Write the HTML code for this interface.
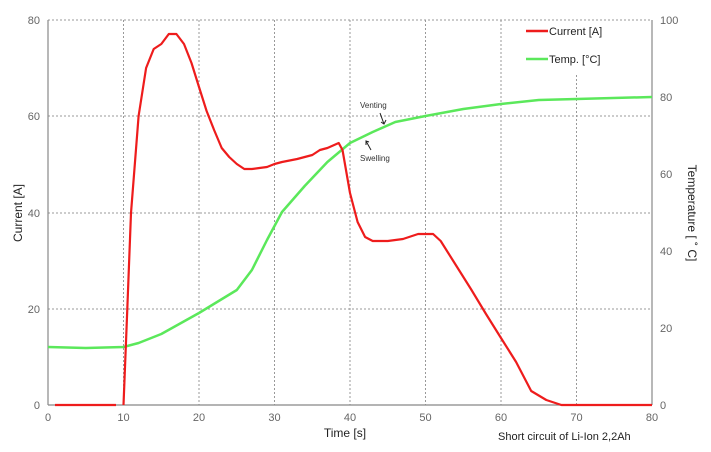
<!DOCTYPE html>
<html><head><style>body{margin:0;background:#fff}svg{font-family:"Liberation Sans",sans-serif}</style></head><body>
<svg width="711" height="447" viewBox="0 0 711 447">
<g stroke="#999" stroke-dasharray="2,2" stroke-width="1">
<line x1="48" y1="20" x2="652" y2="20"/><line x1="48" y1="116" x2="652" y2="116"/><line x1="48" y1="213" x2="652" y2="213"/><line x1="48" y1="309" x2="652" y2="309"/>
<line x1="123.5" y1="20" x2="123.5" y2="405"/><line x1="199" y1="20" x2="199" y2="405"/><line x1="274.5" y1="20" x2="274.5" y2="405"/><line x1="350" y1="20" x2="350" y2="405"/><line x1="425.5" y1="20" x2="425.5" y2="405"/><line x1="501" y1="20" x2="501" y2="405"/><line x1="576.5" y1="75" x2="576.5" y2="405"/>
</g>
<g stroke="#888" stroke-width="1.2"><line x1="48" y1="20" x2="48" y2="405"/><line x1="48" y1="405" x2="652" y2="405"/><line x1="652" y1="20" x2="652" y2="405"/></g>
<g fill="#666" font-size="11" text-anchor="end"><text x="40" y="24">80</text><text x="40" y="120">60</text><text x="40" y="217">40</text><text x="40" y="313">20</text><text x="40" y="409">0</text></g>
<g fill="#666" font-size="11" text-anchor="start"><text x="660" y="24">100</text><text x="660" y="101">80</text><text x="660" y="178">60</text><text x="660" y="255">40</text><text x="660" y="332">20</text><text x="660" y="409">0</text></g>
<g fill="#666" font-size="11" text-anchor="middle"><text x="48" y="421">0</text><text x="123.5" y="421">10</text><text x="199" y="421">20</text><text x="274.5" y="421">30</text><text x="350" y="421">40</text><text x="425.5" y="421">50</text><text x="501" y="421">60</text><text x="576.5" y="421">70</text><text x="652" y="421">80</text></g>
<text x="345" y="437" font-size="12" text-anchor="middle" fill="#222">Time [s]</text>
<text x="498" y="440" font-size="11" fill="#222">Short circuit of Li-Ion 2,2Ah</text>
<text transform="translate(22,213) rotate(-90)" font-size="12" text-anchor="middle" fill="#222">Current [A]</text>
<text transform="translate(688,213) rotate(90)" font-size="12" text-anchor="middle" fill="#222">Temperature [ ˚ C]</text>
<polyline fill="none" stroke="#5be85b" stroke-width="2.5" stroke-linejoin="round" points="48,347 85.8,348 123.5,347 138.6,343 161.3,334 199,313 236.8,290 251.9,270 267,240 282,212 304.7,186 327.4,162 350,143 372.7,132 395.3,122 425.5,116 463.3,109 501,104 538.8,100 576.5,99 652,97"/>
<polyline fill="none" stroke="#ee1c1c" stroke-width="2.2" points="55,405 116,405"/>
<polyline fill="none" stroke="#ee1c1c" stroke-width="2.2" stroke-linejoin="round" points="123.5,405 127.3,309 131,213 138.6,116 146.1,68 153.7,49 161.3,44 168.8,34 176.4,34 184,44 191.5,63 199,87 206.6,111 214.1,130 221.7,148 229.2,157 236.8,164 244.3,169 251.9,169 259.4,168 267,167 274.5,164 282,162 297.2,159 312.3,155 319.9,150 327.4,148 338.7,143 342.5,150 350,193 357.6,222 365.1,237 372.7,241 387.8,241 403,239 418.1,234 433.1,234 440.7,241 455.8,265 470.9,289 486,314 501,338 516.1,362 531.2,391 546.3,400 561.4,405 652,405"/>
<line x1="526" y1="31" x2="548" y2="31" stroke="#ee1c1c" stroke-width="2.5"/><text x="549" y="35" font-size="11" fill="#222">Current [A]</text>
<line x1="526" y1="59" x2="548" y2="59" stroke="#5be85b" stroke-width="2.5"/><text x="549" y="63" font-size="11" fill="#222">Temp. [°C]</text>
<text x="360" y="108" font-size="8" fill="#333">Venting</text>
<text x="360" y="161" font-size="8" fill="#333">Swelling</text>
<g stroke="#222" stroke-width="1" fill="none"><path d="M380,113 L384,124 M381,122 L384,124 L386,120"/><path d="M371,150 L366,141 M366,145 L366,141 L369,142"/></g>
</svg>
</body></html>
